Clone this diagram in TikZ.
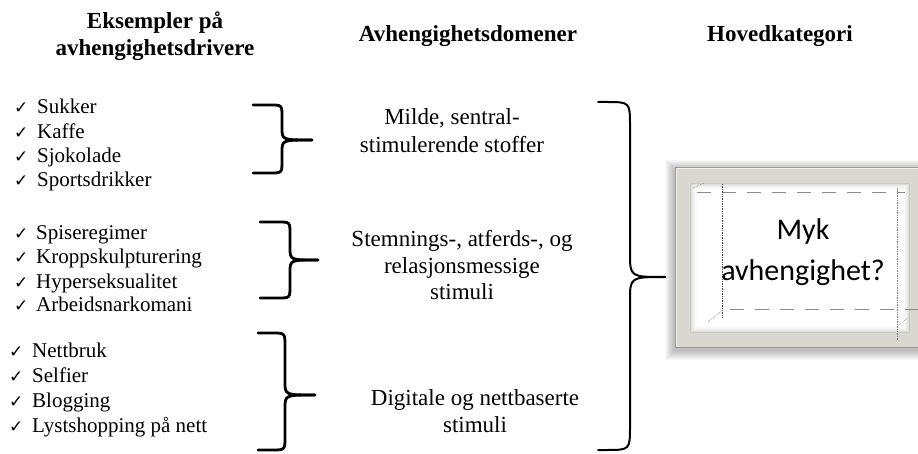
\documentclass[tikz,border=0pt]{standalone}
\usepackage{fontspec}
\setmainfont{Liberation Serif}
\newfontfamily\calfont{Carlito}
\newfontfamily\symfont{DejaVu Sans}
\usetikzlibrary{calc}
\definecolor{framecol}{RGB}{218,215,208}
\definecolor{frameedge}{RGB}{160,156,148}
\definecolor{dashcol}{RGB}{140,140,140}
\newcommand\mybrace[8]{%
  \draw[#8] (#1,#4) -- ({#2-#7},#4) .. controls (#2,#4) .. (#2,{#4+#7}) -- (#2,{#5-#7}) .. controls (#2,#5) .. (#3,#5);
  \draw[#8] (#3,#5) .. controls (#2,#5) .. (#2,{#5+#7}) -- (#2,{#6-#7}) .. controls (#2,#6) .. ({#2-#7},#6) -- (#1,#6);
}
\begin{document}
\begin{tikzpicture}[x=1pt,y=-1pt,
  hdr/.style={font=\fontsize{23}{27}\selectfont\bfseries, inner sep=0pt, anchor=base},
  item/.style={font=\fontsize{21}{24}\selectfont, inner sep=0pt, anchor=base west},
  chk/.style={font=\symfont\fontsize{17}{20}\selectfont, inner sep=0pt, anchor=base west},
  mid/.style={font=\fontsize{23}{27}\selectfont, inner sep=0pt, anchor=base},
  smallbrace/.style={line width=2.8pt, line cap=round, line join=round},
  bigbrace/.style={line width=2pt, line cap=round, line join=round},
  boxtext/.style={font=\calfont\fontsize{30}{36}\selectfont, inner sep=0pt, anchor=base},
]
\fill[white] (0,0) rectangle (918,454);
\useasboundingbox (0,0) rectangle (918,454);
\clip (0,0) rectangle (918,454);

% headers
\node[hdr] (h1a) at (155,29) {Eksempler på};
\node[hdr] (h1b) at (155,56) {avhengighetsdrivere};
\node[hdr] (h2) at (468,42) {Avhengighetsdomener};
\node[hdr] (h3) at (780,42) {Hovedkategori};

% list group 1
\foreach \n/\y/\t in {a/114/Sukker, b/138.5/Kaffe, c/162.5/Sjokolade, d/186.5/Sportsdrikker}{
  \node[chk] (c1\n) at (14,\y) {✓};
  \node[item] (i1\n) at (37,\y) {\t};
}
% list group 2
\foreach \n/\y/\t in {a/240/Spiseregimer, b/264/Kroppskulpturering, c/288/Hyperseksualitet, d/312/Arbeidsnarkomani}{
  \node[chk] (c2\n) at (14,\y) {✓};
  \node[item] (i2\n) at (36,\y) {\t};
}
% list group 3
\foreach \n/\y/\t in {a/357/Nettbruk, b/382/Selfier, c/407/Blogging, d/432/Lystshopping på nett}{
  \node[chk] (c3\n) at (9,\y) {✓};
  \node[item] (i3\n) at (32,\y) {\t};
}

% small braces
\mybrace{253}{282}{312}{105}{140}{173}{12}{smallbrace}
\mybrace{260}{290}{318}{222}{260}{298}{12}{smallbrace}
\mybrace{258}{285}{315}{333}{395}{450}{13}{smallbrace}
% big brace
\mybrace{598}{630}{665}{102}{277}{450}{24}{bigbrace}

% middle texts
\node[mid] (m1a) at (452,125) {Milde, sentral-};
\node[mid] (m1b) at (452,153) {stimulerende stoffer};
\node[mid] (m2a) at (462,247) {Stemnings-, atferds-, og};
\node[mid] (m2b) at (462,274) {relasjonsmessige};
\node[mid] (m2c) at (462,300) {stimuli};
\node[mid] (m3a) at (475,405) {Digitale og nettbaserte};
\node[mid] (m3b) at (475,432) {stimuli};

% box shadow
\foreach \i in {1,...,10}
  \fill[black, opacity=0.028] ({675-\i},{167-\i+3}) rectangle (940,{347+\i+3});
% frame
\fill[framecol, draw=frameedge, line width=0.8pt] (675,167) rectangle (940,347);
\draw[white, opacity=0.6, line width=1pt] (676.5,346) -- (676.5,168.5) -- (940,168.5);
% inner panel
\fill[white] (690,183) rectangle (910,333);
\foreach \i/\o in {0/0.45,1/0.3,2/0.2,3/0.13,4/0.08,5/0.05,6/0.03}
  \draw[black!45, opacity=\o, line width=1pt] ({690.5+\i},{183.5+\i}) rectangle ({909.5-\i},{332.5-\i});
% dashed guide lines
\draw[dashcol, line width=1pt, dash pattern=on 14pt off 11pt] (697,193) -- (905,193);
\draw[dashcol, line width=1pt, dash pattern=on 14pt off 11pt] (730,309) -- (918,309);
\draw[black!75, line width=0.7pt, densely dotted] (722,184) -- (722,318);
\draw[black!50, line width=0.7pt, densely dotted] (897,188) -- (897,340);
\draw[black!50, line width=0.6pt, densely dotted] (693,188) -- (704,183);
\draw[black!60, line width=0.6pt, densely dotted] (708,322) -- (722,311);
\draw[black!50, line width=0.6pt, densely dotted] (898,326) -- (908,318);

% box text
\node[boxtext] (myk1) at (803,240) {Myk};
\node[boxtext] (myk2) at (803,280) {avhengighet?};
\end{tikzpicture}
\end{document}
